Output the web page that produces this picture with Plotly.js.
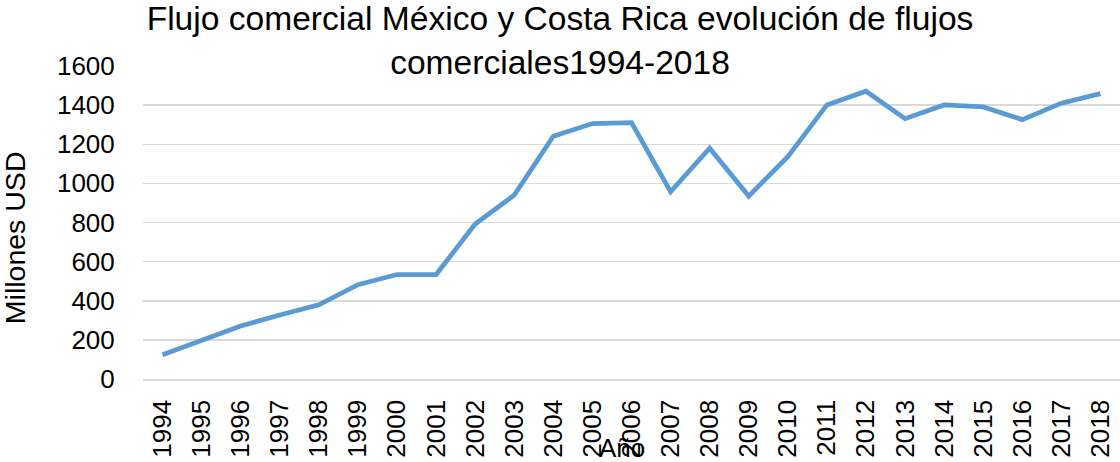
<!DOCTYPE html>
<html>
<head>
<meta charset="utf-8">
<script src="https://cdn.plot.ly/plotly-3.0.1.min.js"></script>
<style>html,body{margin:0;padding:0;background:#fff;}#chart{width:1120px;height:462px;}</style>
</head>
<body>
<div id="chart"></div>
<script>
const years = ["1994","1995","1996","1997","1998","1999","2000","2001","2002","2003","2004","2005","2006","2007","2008","2009","2010","2011","2012","2013","2014","2015","2016","2017","2018"];
const flujo = [124,197,271,327,379,482,534,534,792,940,1241,1306,1311,957,1180,935,1137,1401,1471,1331,1401,1391,1326,1410,1459];
const yTicks = [0,200,400,600,800,1000,1200,1400,1600];
const chartTitle = "Flujo comercial México y Costa Rica evolución de flujos<br>comerciales1994-2018";
const xTitle = "Año";
const yTitle = "Millones USD";

const font = "Liberation Sans, Arial, sans-serif";

const trace = {
  type: "scatter",
  mode: "lines",
  x: years,
  y: flujo,
  line: {color: "#5b9bd5", width: 4.75, shape: "linear"},
  hoverinfo: "x+y"
};

const layout = {
  width: 1120,
  height: 462,
  margin: {l: 143, r: 0, t: 66, b: 83, pad: 0},
  paper_bgcolor: "#ffffff",
  plot_bgcolor: "#ffffff",
  showlegend: false,
  font: {family: font, color: "#000000", size: 26},
  title: {
    text: chartTitle,
    font: {family: font, size: 33.6, color: "#000000"},
    x: 0.5, xref: "container", xanchor: "center",
    y: 1, yref: "container", yanchor: "top",
    pad: {t: 30}
  },
  xaxis: {
    type: "category",
    range: [-0.5, 24.5],
    showgrid: false,
    zeroline: false,
    showline: true,
    linecolor: "#d9d9d9",
    linewidth: 1.5,
    ticks: "outside",
    ticklen: 9,
    tickcolor: "rgba(0,0,0,0)",
    tickangle: -90,
    tickfont: {family: font, size: 26, color: "#000000"},
    fixedrange: true
  },
  yaxis: {
    range: [0, 1600],
    tickvals: yTicks,
    ticktext: yTicks.map(String),
    showgrid: true,
    gridcolor: "#d9d9d9",
    gridwidth: 1.5,
    zeroline: false,
    showline: false,
    ticks: "outside",
    ticklen: 22,
    tickcolor: "rgba(0,0,0,0)",
    tickfont: {family: font, size: 26, color: "#000000"},
    fixedrange: true
  },
  annotations: [
    {
      text: xTitle, xref: "paper", yref: "paper",
      x: 0.49, y: -0.222, xanchor: "center", yanchor: "middle",
      showarrow: false, font: {family: font, size: 26, color: "#000000"}
    },
    {
      text: yTitle, xref: "paper", yref: "paper",
      x: -0.131, y: 0.45, xanchor: "center", yanchor: "middle",
      textangle: -90,
      showarrow: false, font: {family: font, size: 28.5, color: "#000000"}
    }
  ]
};

Plotly.newPlot("chart", [trace], layout, {displayModeBar: false, staticPlot: true});
</script>
</body>
</html>
